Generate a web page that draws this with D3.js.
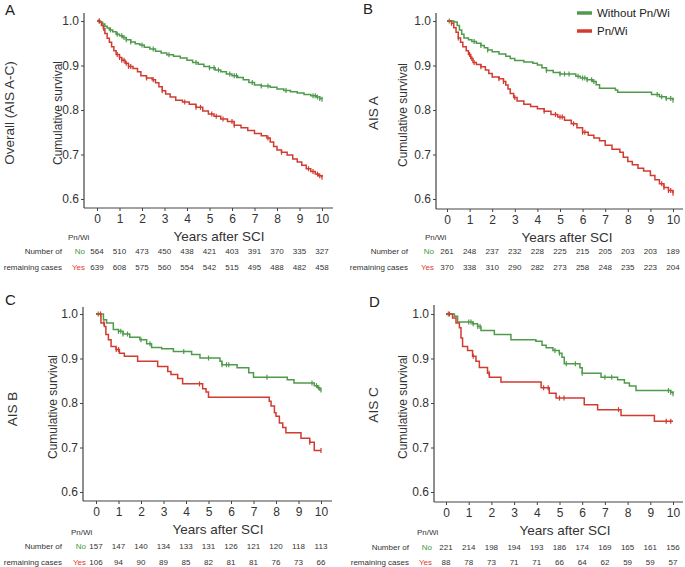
<!DOCTYPE html>
<html><head><meta charset="utf-8">
<script src="https://cdn.jsdelivr.net/npm/d3@7"></script>
<style>
body{margin:0;background:#fff;}
svg{display:block;font-family:"Liberation Sans",Arial,sans-serif;}
</style></head>
<body><svg id="chart" width="685" height="567"></svg>
<script>
// ---------- DATA ----------
const years = [0,1,2,3,4,5,6,7,8,9,10];
const yTicks = [0.6,0.7,0.8,0.9,1.0];
const panelLetters = ["A","B","C","D"];
const panelTitles = ["Overall (AIS A-C)","AIS A","AIS B","AIS C"];
const seriesNames = ["Without Pn/Wi","Pn/Wi"];
const groupLabels = ["No","Yes"];
const xTitle = "Years after SCI";
const yTitle = "Cumulative survival";

// Kaplan-Meier steps [years, survival]
const kmA_no = [[0,1],[0.15,0.997],[0.25,0.993],[0.35,0.988],[0.45,0.984],[0.55,0.980],[0.7,0.976],[0.85,0.970],[1.0,0.967],[1.15,0.963],[1.3,0.958],[1.5,0.953],[1.7,0.949],[1.9,0.946],[2.1,0.941],[2.35,0.937],[2.6,0.932],[2.85,0.928],[3.1,0.924],[3.4,0.921],[3.7,0.917],[4.0,0.912],[4.25,0.907],[4.5,0.903],[4.75,0.898],[5.0,0.895],[5.25,0.890],[5.5,0.886],[5.75,0.881],[6.0,0.877],[6.25,0.873],[6.5,0.868],[6.75,0.862],[7.0,0.856],[7.3,0.854],[7.7,0.851],[8.0,0.847],[8.3,0.844],[8.6,0.841],[8.9,0.838],[9.2,0.835],[9.5,0.832],[9.75,0.829],[9.9,0.826],[10,0.824]];
const kmA_yes = [[0,1],[0.12,0.998],[0.2,0.99],[0.28,0.983],[0.35,0.972],[0.45,0.961],[0.55,0.952],[0.65,0.942],[0.75,0.933],[0.85,0.925],[1.0,0.918],[1.1,0.912],[1.25,0.905],[1.4,0.898],[1.6,0.893],[1.8,0.886],[1.95,0.877],[2.2,0.872],[2.45,0.868],[2.6,0.861],[2.75,0.852],[2.9,0.843],[3.05,0.836],[3.25,0.829],[3.5,0.822],[3.8,0.818],[4.1,0.813],[4.4,0.806],[4.7,0.798],[4.95,0.791],[5.2,0.786],[5.5,0.780],[5.8,0.774],[6.1,0.766],[6.4,0.760],[6.7,0.754],[7.0,0.747],[7.3,0.742],[7.55,0.737],[7.7,0.728],[7.85,0.718],[8.0,0.710],[8.2,0.705],[8.45,0.699],[8.7,0.690],[8.9,0.683],[9.1,0.676],[9.3,0.668],[9.5,0.662],[9.7,0.656],[9.85,0.652],[10,0.649]];
const kmB_no = [[0,1],[0.3,0.998],[0.45,0.99],[0.55,0.98],[0.65,0.97],[0.75,0.962],[0.95,0.958],[1.1,0.954],[1.3,0.95],[1.5,0.945],[1.65,0.94],[1.8,0.935],[2.0,0.931],[2.3,0.926],[2.6,0.921],[2.8,0.916],[3.0,0.911],[3.4,0.908],[3.8,0.905],[4.0,0.901],[4.2,0.895],[4.4,0.889],[4.7,0.884],[5.0,0.881],[5.7,0.876],[5.9,0.872],[6.2,0.868],[6.45,0.864],[6.6,0.857],[6.75,0.849],[7.45,0.845],[7.55,0.84],[9.05,0.835],[9.4,0.83],[9.7,0.826],[10,0.822]];
const kmB_yes = [[0,1],[0.2,0.995],[0.3,0.985],[0.4,0.975],[0.5,0.962],[0.6,0.952],[0.7,0.942],[0.85,0.933],[0.95,0.925],[1.05,0.916],[1.15,0.907],[1.3,0.902],[1.5,0.897],[1.7,0.89],[1.85,0.882],[2.0,0.874],[2.3,0.87],[2.5,0.864],[2.6,0.856],[2.7,0.847],[2.8,0.837],[2.95,0.828],[3.1,0.82],[3.4,0.813],[3.7,0.808],[4.0,0.803],[4.3,0.797],[4.6,0.79],[4.9,0.784],[5.2,0.777],[5.5,0.769],[5.75,0.76],[6.0,0.75],[6.25,0.743],[6.5,0.737],[6.75,0.731],[7.0,0.721],[7.3,0.712],[7.65,0.705],[7.8,0.694],[8.0,0.684],[8.2,0.677],[8.45,0.669],[8.7,0.663],[9.0,0.653],[9.2,0.643],[9.4,0.634],[9.6,0.626],[9.8,0.619],[10,0.613]];
const kmC_no = [[0,1],[0.33,0.987],[0.47,0.98],[0.77,0.965],[1.0,0.961],[1.2,0.955],[1.5,0.948],[1.95,0.942],[2.25,0.933],[2.47,0.925],[2.92,0.922],[3.44,0.916],[4.25,0.909],[4.62,0.901],[5.51,0.894],[5.6,0.886],[6.27,0.879],[6.79,0.868],[7.0,0.858],[8.5,0.852],[8.8,0.845],[9.7,0.839],[9.85,0.834],[9.95,0.829],[10,0.829]];
const kmC_yes = [[0,1],[0.22,0.98],[0.37,0.972],[0.44,0.954],[0.55,0.942],[0.67,0.927],[0.89,0.92],[1.04,0.912],[1.26,0.905],[1.85,0.894],[2.74,0.882],[3.19,0.871],[3.33,0.864],[3.63,0.855],[3.85,0.843],[4.74,0.832],[4.89,0.825],[5.0,0.813],[7.7,0.804],[7.78,0.793],[7.93,0.778],[8.0,0.77],[8.15,0.755],[8.3,0.745],[8.44,0.733],[9.11,0.721],[9.5,0.712],[9.7,0.693],[10,0.693]];
const kmD_no = [[0,1],[0.37,0.995],[0.51,0.982],[1.17,0.978],[1.39,0.972],[1.54,0.963],[2.13,0.954],[2.86,0.942],[3.96,0.939],[4.23,0.93],[4.41,0.924],[4.71,0.918],[4.99,0.912],[5.11,0.903],[5.21,0.888],[5.9,0.879],[6.0,0.867],[6.83,0.858],[7.56,0.852],[7.86,0.845],[8.08,0.838],[8.37,0.828],[9.9,0.824],[10,0.821]];
const kmD_yes = [[0,1],[0.29,0.991],[0.44,0.98],[0.59,0.969],[0.66,0.946],[0.73,0.927],[0.95,0.918],[1.17,0.905],[1.32,0.894],[1.47,0.88],[1.83,0.867],[1.91,0.858],[2.42,0.847],[4.19,0.834],[4.55,0.822],[4.85,0.811],[6.09,0.796],[6.68,0.785],[7.71,0.772],[9.18,0.759],[10,0.759]];

// censoring times (years)
const censA_no = [0.1,0.6,0.9,1.1,1.2,1.3,1.5,2.0,2.5,3.2,4.4,5.0,5.2,5.4,5.9,6.1,6.2,6.9,7.3,7.6,8.4,9.6,9.7,9.8,9.9,10];
const censA_yes = [0.1,0.3,0.9,1.0,1.1,1.2,1.3,1.4,1.5,2.2,2.5,2.9,3.9,4.4,4.6,5.1,5.3,5.6,6.0,6.1,7.6,8.2,9.4,9.6,9.8,9.9,10];
const censB_no = [0.1,1.2,1.5,1.8,4.4,5.0,5.2,5.4,5.8,6.0,6.1,6.2,6.4,6.5,9.3,9.5,9.7,9.9,10];
const censB_yes = [0.2,0.5,1.0,1.1,1.2,1.5,2.3,2.5,3.0,4.3,4.8,5.0,5.1,5.6,6.0,6.1,9.5,9.6,9.8,9.9,10];
const censC_no = [0.1,1.0,1.1,1.2,1.4,2.0,2.4,3.9,5.0,5.6,5.8,5.9,7.6,9.6,9.8,9.9,10];
const censC_yes = [0.2,0.35,0.9,1.0,4.6,9.5,10];
const censD_no = [0.1,1.0,1.1,1.2,1.4,1.5,4.8,5.0,5.3,5.7,6.0,7.0,7.3,9.8,9.9,10];
const censD_yes = [0.15,1.2,1.9,4.3,4.5,5.0,5.2,7.6,9.7,9.9];

// numbers at risk
const riskA_no = [564,510,473,450,438,421,403,391,370,335,327];
const riskA_yes = [639,608,575,560,554,542,515,495,488,482,458];
const riskB_no = [261,248,237,232,228,225,215,205,203,203,189];
const riskB_yes = [370,338,310,290,282,273,258,248,235,223,204];
const riskC_no = [157,147,140,134,133,131,126,121,120,118,113];
const riskC_yes = [106,94,90,89,85,82,81,81,76,73,66];
const riskD_no = [221,214,198,194,193,186,174,169,165,161,156];
const riskD_yes = [88,78,73,71,71,66,64,62,59,59,57];

// ---------- LAYOUT ----------
const colors = ["#4f9a4b","#d23b30"];
const tableColors = ["#3f9a3f","#e23a32"];
const layout = [
  {axX:84, x0:97, x10:322, yTop:13, y1:21, y06:199, axY:208, xEnd:333, title:219, letter:[5,15], row:[14,113], ylab:[62,113], pn:[68,240], numEnd:62, grpEnd:85, rows:[254,270]},
  {axX:436, x0:447, x10:673, yTop:13, y1:21, y06:199, axY:209, xEnd:683, title:567, letter:[363,14], row:[378,113], ylab:[407,115], pn:[425,240], numEnd:408, grpEnd:434, rows:[254,270]},
  {axX:83, x0:96, x10:321, yTop:307, y1:314, y06:492, axY:501, xEnd:332, title:218, letter:[5,305], row:[17,409], ylab:[57,407], pn:[71,535], numEnd:62, grpEnd:86, rows:[549,565]},
  {axX:434, x0:446, x10:673, yTop:305, y1:314, y06:492, axY:502, xEnd:683, title:565, letter:[369,307], row:[378,405], ylab:[407,407], pn:[417,535], numEnd:409, grpEnd:432, rows:[550,565]}
];
const kmData = [[kmA_no,kmA_yes],[kmB_no,kmB_yes],[kmC_no,kmC_yes],[kmD_no,kmD_yes]];
const censData = [[censA_no,censA_yes],[censB_no,censB_yes],[censC_no,censC_yes],[censD_no,censD_yes]];
const riskData = [[riskA_no,riskA_yes],[riskB_no,riskB_yes],[riskC_no,riskC_yes],[riskD_no,riskD_yes]];

const svg = d3.select("#chart");
const txtCol = "#333";
const tblFont = 8;

function survAt(km, t){
  let s = 1;
  for (const [tt, v] of km){ if (tt <= t) s = v; else break; }
  return s;
}

layout.forEach((L, i) => {
  const g = svg.append("g");
  const x = d3.scaleLinear().domain([0,10]).range([L.x0, L.x10]);
  const y = d3.scaleLinear().domain([0.6,1.0]).range([L.y06, L.y1]);

  // axis lines
  g.append("line").attr("x1",L.axX).attr("x2",L.axX).attr("y1",L.yTop).attr("y2",L.axY)
    .attr("stroke","#444").attr("stroke-width",1.2);
  g.append("line").attr("x1",L.axX).attr("x2",L.xEnd).attr("y1",L.axY).attr("y2",L.axY)
    .attr("stroke","#444").attr("stroke-width",1.2);

  const ya = g.append("g").attr("transform",`translate(${L.axX},0)`)
    .call(d3.axisLeft(y).tickValues(yTicks).tickFormat(d3.format(".1f")).tickSize(3).tickPadding(2));
  ya.select(".domain").remove();
  ya.selectAll("line").attr("stroke","#444");
  ya.selectAll("text").attr("font-size",12).attr("fill",txtCol).attr("font-family","Liberation Sans, Arial, sans-serif");

  const xa = g.append("g").attr("transform",`translate(0,${L.axY})`)
    .call(d3.axisBottom(x).tickValues(years).tickFormat(d3.format("d")).tickSize(3).tickPadding(3.5));
  xa.select(".domain").remove();
  xa.selectAll("line").attr("stroke","#444");
  xa.selectAll("text").attr("font-size",12).attr("fill",txtCol).attr("font-family","Liberation Sans, Arial, sans-serif");

  // curves
  const line = d3.line().x(d => x(d[0])).y(d => y(d[1])).curve(d3.curveStepAfter);
  kmData[i].forEach((km, k) => {
    g.append("path").datum(km).attr("d", line).attr("fill","none")
      .attr("stroke", colors[k]).attr("stroke-width",1.5);
    g.selectAll(null).data(censData[i][k]).enter().append("line")
      .attr("x1", t => x(t)).attr("x2", t => x(t))
      .attr("y1", t => y(survAt(km,t)) - 2.5).attr("y2", t => y(survAt(km,t)) + 2.5)
      .attr("stroke", colors[k]).attr("stroke-width",1.2);
  });

  // titles
  g.append("text").attr("x",L.title).attr("y",L.axY+33).attr("text-anchor","middle")
    .attr("font-size",13.5).attr("fill",txtCol).text(xTitle);
  g.append("text").attr("transform",`translate(${L.ylab[0]},${L.ylab[1]}) rotate(-90)`)
    .attr("text-anchor","middle").attr("font-size",12).attr("fill",txtCol).text(yTitle);
  g.append("text").attr("transform",`translate(${L.row[0]},${L.row[1]}) rotate(-90)`)
    .attr("text-anchor","middle").attr("font-size",13.5).attr("fill",txtCol).text(panelTitles[i]);
  g.append("text").attr("x",L.letter[0]).attr("y",L.letter[1])
    .attr("font-size",15).attr("fill","#222").text(panelLetters[i]);

  // risk table
  g.append("text").attr("x",L.pn[0]).attr("y",L.pn[1]).attr("font-size",tblFont).attr("fill",txtCol).text("Pn/Wi");
  g.append("text").attr("x",L.numEnd).attr("y",L.rows[0]).attr("text-anchor","end")
    .attr("font-size",tblFont).attr("fill",txtCol).text("Number of");
  g.append("text").attr("x",L.numEnd).attr("y",L.rows[1]).attr("text-anchor","end")
    .attr("font-size",tblFont).attr("fill",txtCol).text("remaining cases");
  riskData[i].forEach((vals, k) => {
    g.append("text").attr("x",L.grpEnd).attr("y",L.rows[k]).attr("text-anchor","end")
      .attr("font-size",tblFont).attr("fill",tableColors[k]).text(groupLabels[k]);
    g.selectAll(null).data(vals).enter().append("text")
      .attr("x",(d,j) => x(years[j])).attr("y",L.rows[k]).attr("text-anchor","middle")
      .attr("font-size",tblFont).attr("fill",txtCol).text(d => d);
  });
});

// legend (panel B)
const leg = svg.append("g");
seriesNames.forEach((name, k) => {
  const ly = 13 + k*18;
  leg.append("line").attr("x1",577).attr("x2",592).attr("y1",ly).attr("y2",ly)
    .attr("stroke",colors[k]).attr("stroke-width",3.5);
  leg.append("text").attr("x",597).attr("y",ly+4).attr("font-size",11.5).attr("fill","#222").text(name);
});
</script>
</body></html>
